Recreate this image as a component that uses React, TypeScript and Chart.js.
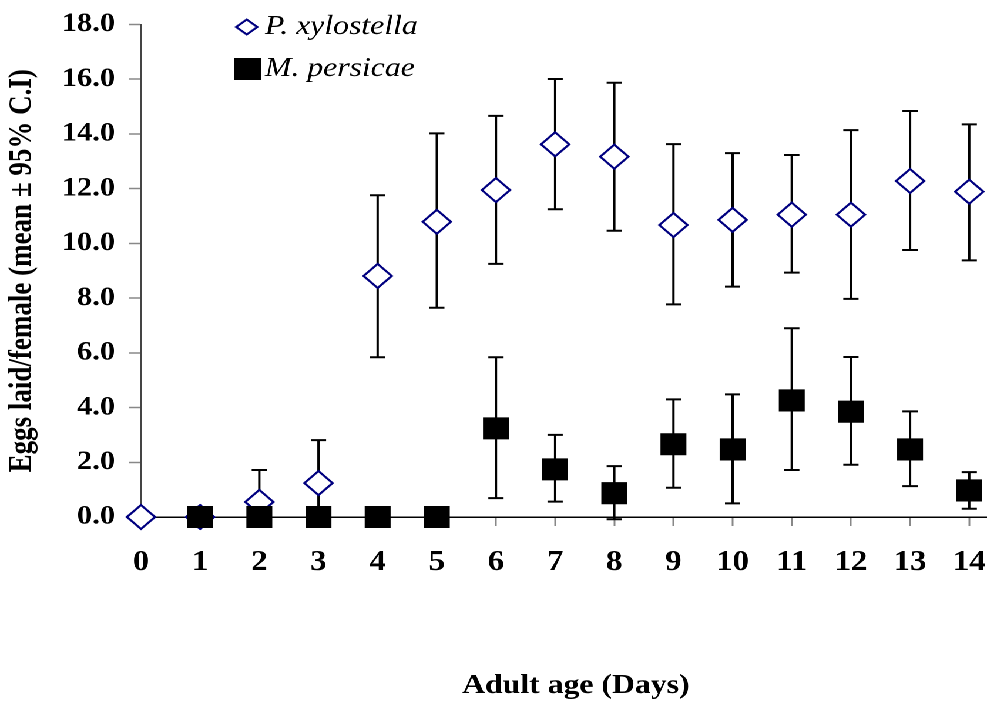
import React, { useEffect, useRef } from "react";
import { Chart, registerables } from "chart.js";

Chart.register(...registerables);

// ---------- data ----------
const days = [0, 1, 2, 3, 4, 5, 6, 7, 8, 9, 10, 11, 12, 13, 14];
const pxMean = [0, 0, 0.55, 1.24, 8.81, 10.79, 11.95, 13.62, 13.17, 10.67, 10.86, 11.05, 11.05, 12.28, 11.89];
const pxLower = [0, 0, 0, 0, 5.84, 7.65, 9.25, 11.25, 10.46, 7.77, 8.42, 8.93, 7.97, 9.76, 9.38];
const pxUpper = [0, 0, 1.72, 2.81, 11.76, 14.02, 14.66, 16.01, 15.87, 13.63, 13.3, 13.23, 14.14, 14.84, 14.35];

const mpDays = [1, 2, 3, 4, 5, 6, 7, 8, 9, 10, 11, 12, 13, 14];
const mpMean = [0, 0, 0, 0, 0, 3.24, 1.74, 0.87, 2.66, 2.47, 4.26, 3.85, 2.47, 0.97];
const mpLower = [0, 0, 0, 0, 0, 0.69, 0.56, -0.08, 1.07, 0.5, 1.72, 1.91, 1.13, 0.3];
const mpUpper = [0, 0, 0, 0, 0, 5.84, 3.0, 1.86, 4.3, 4.48, 6.9, 5.85, 3.86, 1.64];

const xTicks = [0, 1, 2, 3, 4, 5, 6, 7, 8, 9, 10, 11, 12, 13, 14];
const yTicks = [0, 2, 4, 6, 8, 10, 12, 14, 16, 18];
const seriesNames = ["P. xylostella", "M. persicae"];
const xTitle = "Adult age (Days)";
const yTitle = "Eggs laid/female (mean \u00B1 95% C.I)";

// ---------- layout ----------
const W = 840;
const H = 702;
const SX = 987 / W;
const FONT = "'Liberation Serif', 'Times New Roman', serif";
const NAVY = "#000080";

const errorBars = {
  id: "errorBars",
  beforeDatasetsDraw(chart: any) {
    const { ctx } = chart;
    const x = chart.scales.x;
    const y = chart.scales.y;
    ctx.save();
    ctx.strokeStyle = "#000";
    ctx.lineWidth = 2;
    chart.data.datasets.forEach((ds: any) => {
      const lo: number[] = ds.errLow;
      const hi: number[] = ds.errHigh;
      ds.data.forEach((p: any, i: number) => {
        if (lo[i] === hi[i]) return;
        const px = x.getPixelForValue(p.x);
        const yl = y.getPixelForValue(lo[i]);
        const yh = y.getPixelForValue(hi[i]);
        const cw = 6.5;
        ctx.beginPath();
        ctx.moveTo(px, yl);
        ctx.lineTo(px, yh);
        ctx.moveTo(px - cw, yl);
        ctx.lineTo(px + cw, yl);
        ctx.moveTo(px - cw, yh);
        ctx.lineTo(px + cw, yh);
        ctx.stroke();
      });
    });
    ctx.restore();
  },
};

const customLegend = {
  id: "customLegend",
  afterDraw(chart: any) {
    const { ctx } = chart;
    ctx.save();
    const dx = 210, dy = 27, hw = 9, hh = 7.5;
    ctx.beginPath();
    ctx.moveTo(dx - hw, dy);
    ctx.lineTo(dx, dy - hh);
    ctx.lineTo(dx + hw, dy);
    ctx.lineTo(dx, dy + hh);
    ctx.closePath();
    ctx.fillStyle = "#fff";
    ctx.fill();
    ctx.strokeStyle = NAVY;
    ctx.lineWidth = 2;
    ctx.stroke();
    ctx.fillStyle = "#000";
    ctx.fillRect(199, 58, 23, 22);
    ctx.font = `italic 27px ${FONT}`;
    ctx.textAlign = "left";
    ctx.textBaseline = "alphabetic";
    ctx.fillStyle = "#000";
    ctx.fillText(seriesNames[0], 225.5, 34);
    ctx.fillText(seriesNames[1], 225.5, 76);
    ctx.restore();
  },
};

export default function App() {
  const ref = useRef<HTMLCanvasElement>(null);

  useEffect(() => {
    const canvas = ref.current;
    if (!canvas) return;
    const chart = new Chart(canvas, {
      type: "scatter",
      data: {
        datasets: [
          {
            label: seriesNames[0],
            data: days.map((d, i) => ({ x: d, y: pxMean[i] })),
            errLow: pxLower,
            errHigh: pxUpper,
            pointStyle: "rectRot",
            pointRadius: 12,
            pointHoverRadius: 12,
            pointBackgroundColor: "#fff",
            pointBorderColor: NAVY,
            pointBorderWidth: 2,
            showLine: false,
            clip: false,
            order: 2,
          } as any,
          {
            label: seriesNames[1],
            data: mpDays.map((d, i) => ({ x: d, y: mpMean[i] })),
            errLow: mpLower,
            errHigh: mpUpper,
            pointStyle: "rect",
            pointRadius: 15.6,
            pointHoverRadius: 15.6,
            pointBackgroundColor: "#000",
            pointBorderColor: "#000",
            pointBorderWidth: 0,
            showLine: false,
            clip: false,
            order: 1,
          } as any,
        ],
      },
      options: {
        animation: false,
        responsive: false,
        devicePixelRatio: 2,
        layout: { autoPadding: false, padding: { top: 24.5, right: 0, bottom: 0, left: 0 } },
        plugins: {
          legend: { display: false },
          tooltip: { enabled: false },
        },
        events: [],
        scales: {
          x: {
            type: "linear",
            min: 0,
            max: 14.3,
            afterBuildTicks: (scale: any) => {
              scale.ticks = xTicks.map((v) => ({ value: v }));
            },
            afterFit: (scale: any) => {
              scale.height = 185;
              scale.paddingLeft = 0;
              scale.paddingRight = 0;
            },
            grid: {
              drawOnChartArea: false,
              drawTicks: true,
              tickLength: 9,
              tickColor: "#888",
              tickWidth: 1.5,
            },
            border: { display: true, color: "#000", width: 1.5 },
            ticks: {
              padding: 20,
              color: "#000",
              font: { family: FONT, size: 28, weight: "bold" },
              callback: (v: any) => String(v),
              maxRotation: 0,
              autoSkip: false,
            },
            title: {
              display: true,
              text: "\u00A0\u00A0\u00A0" + xTitle,
              color: "#000",
              font: { family: FONT, size: 27, weight: "bold" },
              padding: { top: 0, bottom: 0 },
            },
          },
          y: {
            type: "linear",
            min: 0,
            max: 18,
            afterBuildTicks: (scale: any) => {
              scale.ticks = yTicks.map((v) => ({ value: v }));
            },
            afterFit: (scale: any) => {
              scale.width = 120;
              scale.paddingTop = 0;
              scale.paddingBottom = 0;
            },
            grid: {
              drawOnChartArea: false,
              drawTicks: true,
              tickLength: 10,
              tickColor: "#888",
              tickWidth: 1.5,
            },
            border: { display: true, color: "#444", width: 1.5 },
            ticks: {
              padding: 12,
              color: "#000",
              font: { family: FONT, size: 26, weight: "bold" },
              callback: (v: any) => Number(v).toFixed(1),
            },
            title: {
              display: true,
              text: yTitle,
              color: "#000",
              font: { family: FONT, size: 27, weight: "bold" },
              padding: { top: 3, bottom: 3 },
            },
          },
        },
      } as any,
      plugins: [errorBars, customLegend],
    });
    return () => chart.destroy();
  }, []);

  return (
    <div
      style={{
        position: "fixed",
        left: 0,
        top: 0,
        width: W,
        height: H,
        transform: `scaleX(${SX})`,
        transformOrigin: "0 0",
        background: "#fff",
      }}
    >
      <canvas ref={ref} width={W} height={H} style={{ width: W, height: H, display: "block" }} />
    </div>
  );
}
